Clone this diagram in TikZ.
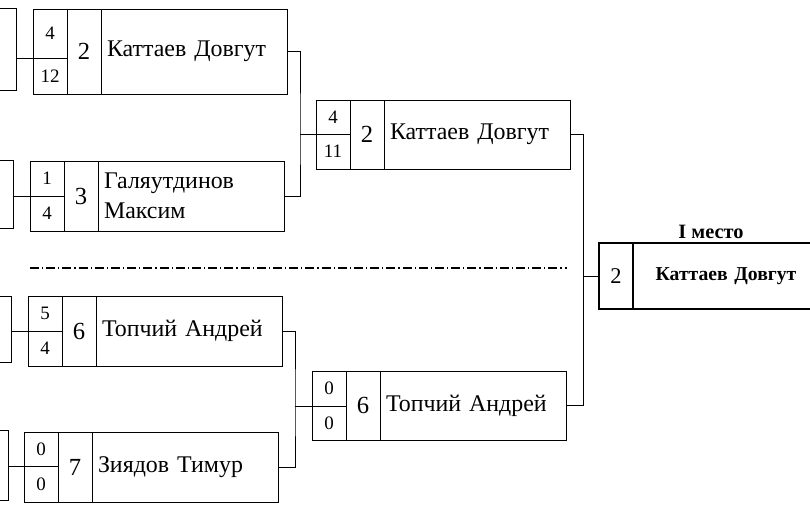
\documentclass[tikz,border=0pt]{standalone}
\usepackage{fontspec}
\setmainfont{Liberation Serif}
\usetikzlibrary{positioning}
\tikzset{
every node/.style={inner sep=0pt, outer sep=0pt},
scorecell/.style={draw, anchor=north west, minimum width=8.5mm, font=\fontsize{13.5}{13.5}\selectfont}, % the two score halves
seedcell/.style={draw, anchor=north west, minimum width=8.5mm, font=\fontsize{17.5}{17.5}\selectfont}, % seed number
playercell/.style={draw, anchor=north west, text width=43.5mm, inner xsep=1.5mm, align=left, font=\fontsize{17}{21}\selectfont}, % player name
stub/.style={draw, anchor=north east, minimum width=10mm}, % boxes cut by the page edge
dashdotline/.style={line width=0.8pt, dash pattern=on 2.25mm off 0.75mm on 0.3mm off 0.75mm},
}

\begin{document}
\begin{tikzpicture}[x=0.25mm, y=-0.25mm, line width=0.6pt]
    \useasboundingbox (0,0) rectangle (810,528);
    \clip (0,0) rectangle (810,528);

    % upper half
    \node[stub, minimum height=20.5mm] (pA) at (16,8) {};
    \node[scorecell, minimum height=12.25mm] (A-s1) at (33,9) {4};
    \node[scorecell, minimum height=9mm, below=0pt of A-s1] (A-s2) {12};
    \node[seedcell, minimum height=21.25mm] (A-seed) at (A-s1.north east) {2};
    \node[playercell, minimum height=21.25mm] (A) at (A-seed.north east) {Каттаев Довгут};

    \node[stub, minimum height=17mm] (pB) at (13,160) {};
    \node[scorecell, minimum height=8.75mm] (B-s1) at (30,161) {1};
    \node[scorecell, minimum height=8.75mm, below=0pt of B-s1] (B-s2) {4};
    \node[seedcell, minimum height=17.5mm] (B-seed) at (B-s1.north east) {3};
    \node[playercell, minimum height=17.5mm] (B) at (B-seed.north east) {Галяутдинов\\Максим};

    \node[scorecell, minimum height=8.5mm] (C-s1) at (316,100) {4};
    \node[scorecell, minimum height=8.75mm, below=0pt of C-s1] (C-s2) {11};
    \node[seedcell, minimum height=17.25mm] (C-seed) at (C-s1.north east) {2};
    \node[playercell, minimum height=17.25mm] (C) at (C-seed.north east) {Каттаев Довгут};

    \draw (A-s1.south west) -- (A-s1.south west -| pA.east);
    \draw (B-s1.south west) -- (B-s1.south west -| pB.east);
    \draw (C-s1.south west) -- ++(-16,0) coordinate (jAB);
    \draw (A.east) -| (jAB) |- (B.east);

    \draw[dashdotline] (30,268) -- (567,268);

    % lower half
    \node[stub, minimum height=16.5mm] (pE) at (11,296) {};
    \node[scorecell, minimum height=8.75mm] (E-s1) at (28,296) {5};
    \node[scorecell, minimum height=8.75mm, below=0pt of E-s1] (E-s2) {4};
    \node[seedcell, minimum height=17.5mm] (E-seed) at (E-s1.north east) {6};
    \node[playercell, minimum height=17.5mm] (E) at (E-seed.north east) {Топчий Андрей};

    \node[stub, minimum height=17.5mm] (pF) at (8,430) {};
    \node[scorecell, minimum height=8.5mm] (F-s1) at (24,432) {0};
    \node[scorecell, minimum height=9mm, below=0pt of F-s1] (F-s2) {0};
    \node[seedcell, minimum height=17.5mm] (F-seed) at (F-s1.north east) {7};
    \node[playercell, minimum height=17.5mm] (F) at (F-seed.north east) {Зиядов Тимур};

    \node[scorecell, minimum height=8.75mm] (G-s1) at (312,371) {0};
    \node[scorecell, minimum height=8.5mm, below=0pt of G-s1] (G-s2) {0};
    \node[seedcell, minimum height=17.25mm] (G-seed) at (G-s1.north east) {6};
    \node[playercell, minimum height=17.25mm] (G) at (G-seed.north east) {Топчий Андрей};

    \draw (E-s1.south west) -- (E-s1.south west -| pE.east);
    \draw (F-s1.south west) -- (F-s1.south west -| pF.east);
    \draw (G-s1.south west) -- ++(-17,0) coordinate (jEF);
    \draw (E.east) -| (jEF) |- (F.east);

    % final
    \node[seedcell, line width=1pt, minimum height=16.5mm, font=\fontsize{16}{16}\selectfont] (D-seed) at (599,243) {2};
    \node[playercell, line width=1pt, minimum height=16.5mm, align=center, font=\bfseries\fontsize{14}{14}\selectfont] (D) at (D-seed.north east) {Каттаев Довгут};
    \node[above=1.2mm of D, xshift=-3.75mm, font=\bfseries\fontsize{14.5}{14.5}\selectfont] (place) {I место};

    \draw (D-seed.west) -- ++(-16,0) coordinate (jCG);
    \draw (C.east) -| (jCG) |- (G.east);
\end{tikzpicture}
\end{document}
